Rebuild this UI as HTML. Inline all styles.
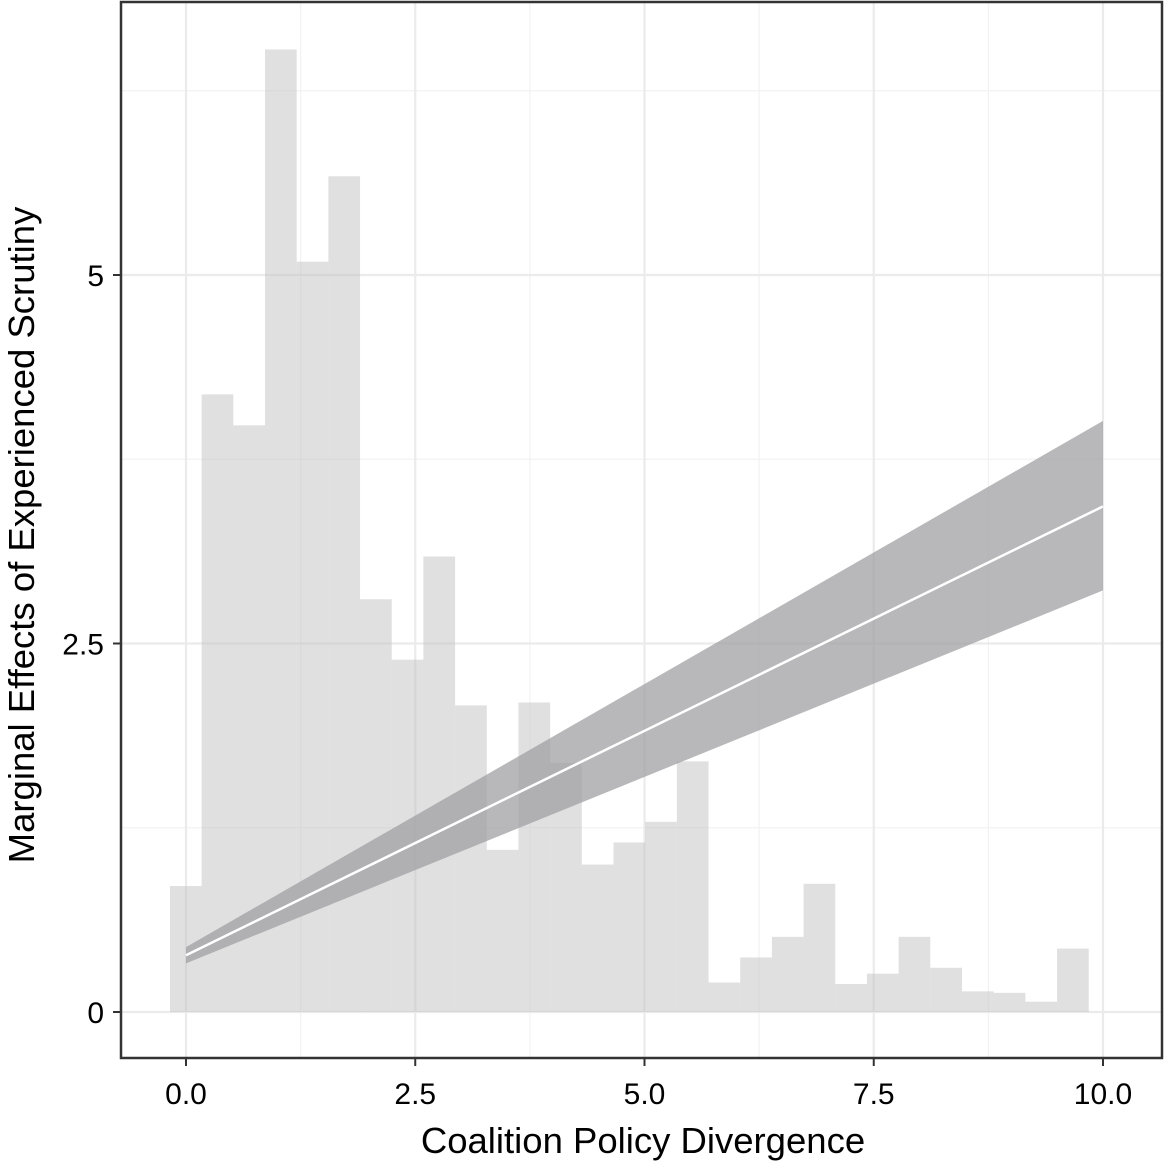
<!DOCTYPE html>
<html><head><meta charset="utf-8"><style>
html,body{margin:0;padding:0;background:#fff;}
svg text{font-family:"Liberation Sans",sans-serif;fill:#000;}
</style></head><body>
<svg id="chart" width="1169" height="1171" xmlns="http://www.w3.org/2000/svg">
<g id="grid"></g>
<g id="bars"></g>
<g id="band"></g>
<g id="axes"></g>
<rect x="121" y="2" width="1041" height="1056" fill="none" stroke="#333" stroke-width="2.5"/>
<text x="643" y="1153" font-size="36.5" text-anchor="middle">Coalition Policy Divergence</text>
<text transform="translate(34,535) rotate(-90)" font-size="36.5" text-anchor="middle">Marginal Effects of Experienced Scrutiny</text>
</svg>
<script>
const binStart = -0.175;
const binWidth = 0.3455;
const counts = [0.855,4.19,3.98,6.53,5.09,5.67,2.80,2.39,3.09,2.08,1.10,2.10,1.69,1.00,1.15,1.29,1.70,0.20,0.37,0.51,0.87,0.19,0.26,0.51,0.30,0.14,0.13,0.07,0.43];
const xTicks = [0,2.5,5,7.5,10];
const xTickLabels = ["0.0","2.5","5.0","7.5","10.0"];
const yTicks = [0,2.5,5];
const yTickLabels = ["0","2.5","5"];
const xMinor = [1.25,3.75,6.25,8.75];
const yMinor = [1.25,3.75,6.25];
const fitX = [0,10];
const fitY = [0.385,3.43];
const fitLo = [0.33,2.86];
const fitHi = [0.44,4.01];

const X = v => 186 + v*91.7;
const Y = v => 1012 - v*147.4;
const NS = "http://www.w3.org/2000/svg";
function mk(parent, tag, attrs){const e=document.createElementNS(NS,tag);for(const k in attrs)e.setAttribute(k,attrs[k]);parent.appendChild(e);return e;}
const grid=document.getElementById('grid');
xMinor.forEach(v=>{const l=mk(grid,'line',{x1:X(v),x2:X(v),y1:2,y2:1058,stroke:'#f2f2f2','stroke-width':1.2});

});
yMinor.forEach(v=>{const l=mk(grid,'line',{x1:121,x2:1162,y1:Y(v),y2:Y(v),stroke:'#f2f2f2','stroke-width':1.2});

});
xTicks.forEach(v=>{const l=mk(grid,'line',{x1:X(v),x2:X(v),y1:2,y2:1058,stroke:'#ebebeb','stroke-width':2.2});

});
yTicks.forEach(v=>{const l=mk(grid,'line',{x1:121,x2:1162,y1:Y(v),y2:Y(v),stroke:'#ebebeb','stroke-width':2.2});

});
const bars=document.getElementById('bars');
counts.forEach((c,i)=>{const x0=X(binStart+i*binWidth),x1=X(binStart+(i+1)*binWidth);
const r=mk(bars,'rect',{x:x0,y:Y(c),width:x1-x0,height:Y(0)-Y(c),fill:'#c2c2c4','fill-opacity':0.5});

});
const band=document.getElementById('band');
let d='M'+X(fitX[0])+','+Y(fitHi[0])+' L'+X(fitX[1])+','+Y(fitHi[1])+' L'+X(fitX[1])+','+Y(fitLo[1])+' L'+X(fitX[0])+','+Y(fitLo[0])+' Z';
const p=mk(band,'path',{d:d,fill:'#a0a0a3','fill-opacity':0.75});


const ln=mk(band,'line',{x1:X(fitX[0]),y1:Y(fitY[0]),x2:X(fitX[1]),y2:Y(fitY[1]),stroke:'#fff','stroke-width':2.5});


const axes=document.getElementById('axes');
xTicks.forEach((v,i)=>{const t=mk(axes,'line',{x1:X(v),x2:X(v),y1:1058,y2:1066,stroke:'#333','stroke-width':2});


const tx=mk(axes,'text',{x:X(v),y:1104,'font-size':30,'text-anchor':'middle',fill:'#1a1a1a'});tx.textContent=xTickLabels[i];

});
yTicks.forEach((v,i)=>{const t=mk(axes,'line',{x1:113,x2:121,y1:Y(v),y2:Y(v),stroke:'#333','stroke-width':2});


const tx=mk(axes,'text',{x:104,y:Y(v)+11,'font-size':30,'text-anchor':'end',fill:'#1a1a1a'});tx.textContent=yTickLabels[i];

});
</script>
</body></html>
